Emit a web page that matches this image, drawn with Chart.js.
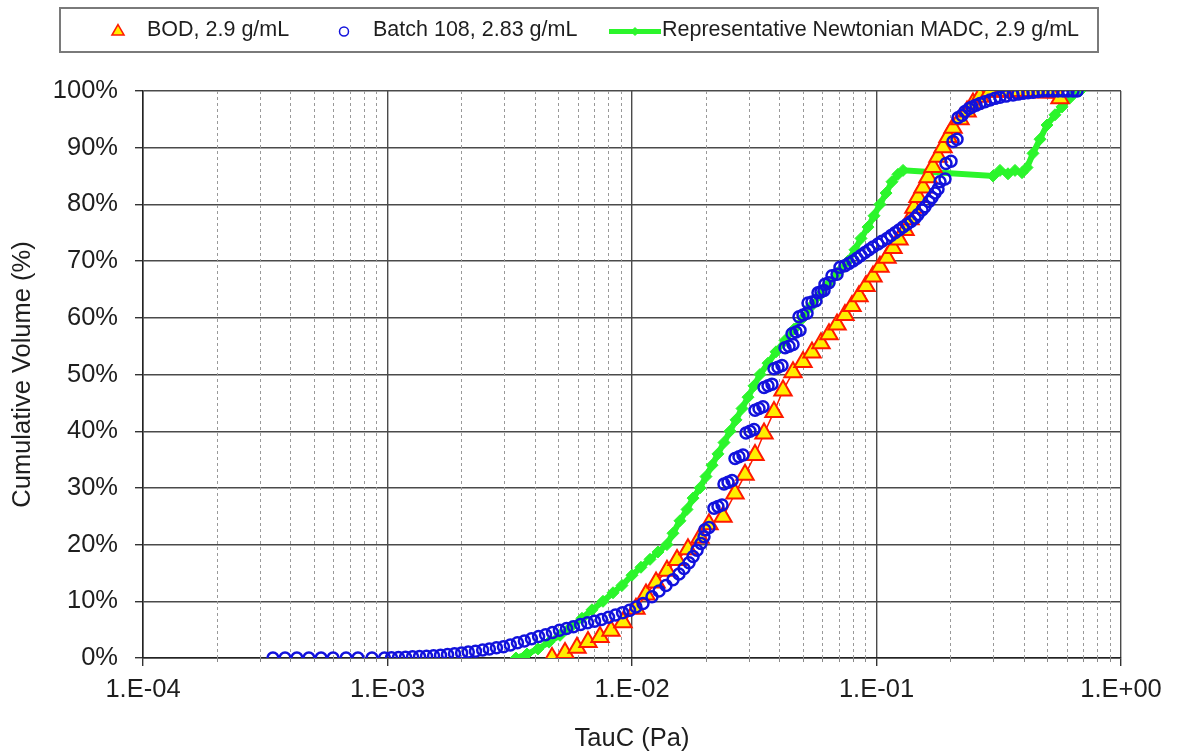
<!DOCTYPE html>
<html>
<head>
<meta charset="utf-8">
<script src="https://cdn.jsdelivr.net/npm/chart.js@4.4.0/dist/chart.umd.min.js"></script>
<style>
  html, body { margin: 0; padding: 0; background: #ffffff; }
  canvas { display: block; }
</style>
</head>
<body>
<canvas id="chart" width="1177" height="752"></canvas>
<script>
// Series names
const seriesNames = ['BOD, 2.9 g/mL', 'Batch 108, 2.83 g/mL', 'Representative Newtonian MADC, 2.9 g/mL'];

// BOD, 2.9 g/mL : critical shear stress (Pa) vs cumulative volume (%)
const bodTau = [0.004708, 0.005321, 0.005957, 0.006607, 0.007397, 0.008207, 0.009188, 0.01038, 0.01141, 0.01254,
  0.0139, 0.01528, 0.01694, 0.01897, 0.02065, 0.02356, 0.02638, 0.02899, 0.03185, 0.03467,
  0.03808, 0.04146, 0.04555, 0.05005, 0.05447, 0.05929, 0.06393, 0.06896, 0.07432, 0.07941,
  0.08481, 0.09059, 0.09676, 0.1033, 0.1104, 0.1168, 0.1236, 0.1308, 0.1371, 0.1423,
  0.1478, 0.155, 0.1624, 0.1702, 0.1785, 0.1871, 0.1961, 0.2056, 0.2195, 0.2346,
  0.2481, 0.265, 0.563, 0.2912, 0.3291, 0.3756, 0.4245, 0.4664, 0.5124];
const bodVolume = [0, 0.9, 1.8, 2.8, 3.7, 4.8, 6.3, 8.7, 11.2, 13.3,
  15.4, 17.3, 19.2, 21.2, 23.6, 24.9, 29.0, 32.3, 35.8, 39.6,
  43.4, 47.2, 50.4, 52.2, 53.9, 55.5, 57.1, 58.8, 60.5, 62.1,
  63.8, 65.6, 67.3, 69.0, 70.6, 72.3, 73.8, 75.5, 77.4, 79.4,
  81.3, 83.0, 84.8, 86.6, 88.4, 90.1, 91.9, 93.5, 95.0, 96.4,
  97.8, 99.0, 98.7, 99.9, 100, 100, 100, 100, 100];

// Batch 108, 2.83 g/mL
const batchTau = [0.00034, 0.000381, 0.000426, 0.000477, 0.000535, 0.000599, 0.000677, 0.000757, 0.000864, 0.000972,
  0.001038, 0.001109, 0.001185, 0.001266, 0.001352, 0.001444, 0.001543, 0.001648, 0.00176, 0.00188,
  0.00201, 0.00214, 0.00229, 0.00245, 0.00261, 0.00279, 0.00298, 0.00318, 0.0034, 0.00363,
  0.00388, 0.00415, 0.00443, 0.00473, 0.00505, 0.0054, 0.00576, 0.00616, 0.00658, 0.00703,
  0.0075, 0.00802, 0.00856, 0.00915, 0.00977, 0.01038, 0.01109, 0.01207, 0.0129, 0.01377,
  0.01471, 0.01557, 0.01632, 0.01711, 0.01777, 0.01845, 0.01915, 0.0197, 0.01988, 0.02065,
  0.02164, 0.02247, 0.02335, 0.02378, 0.0247, 0.02566, 0.02638, 0.02739, 0.02844, 0.02926,
  0.03038, 0.03155, 0.03185, 0.03307, 0.03434, 0.03467, 0.036, 0.03737, 0.03808, 0.03955,
  0.04107, 0.04226, 0.04387, 0.04555, 0.04512, 0.04686, 0.04866, 0.0482, 0.05005, 0.05198,
  0.05246, 0.05447, 0.05656, 0.05764, 0.05929, 0.061, 0.06157, 0.06393, 0.06577, 0.06896,
  0.07091, 0.07432, 0.07718, 0.0802, 0.08323, 0.0864, 0.08974, 0.0932, 0.09676, 0.1014,
  0.1053, 0.1104, 0.1147, 0.1191, 0.1236, 0.1284, 0.1333, 0.1384, 0.1437, 0.1478,
  0.1536, 0.1579, 0.164, 0.1687, 0.1735, 0.1785, 0.1819, 0.1906, 0.1924, 0.2017,
  0.2056, 0.2135, 0.2154, 0.2237, 0.2301, 0.2389, 0.2458, 0.2553, 0.265, 0.2779,
  0.2912, 0.3052, 0.3199, 0.3386, 0.3617, 0.3791, 0.3974, 0.4165, 0.4367, 0.4577,
  0.4797, 0.5028, 0.5271, 0.5525, 0.579, 0.6071, 0.6363, 0.6608];
const batchVolume = [0, 0, 0, 0, 0, 0, 0, 0, 0, 0,
  0.05, 0.1, 0.15, 0.2, 0.25, 0.3, 0.4, 0.5, 0.6, 0.75,
  0.9, 1.05, 1.2, 1.4, 1.6, 1.8, 2.0, 2.3, 2.7, 3.0,
  3.4, 3.8, 4.1, 4.5, 4.9, 5.2, 5.5, 5.9, 6.2, 6.5,
  6.8, 7.2, 7.6, 8.0, 8.4, 9.0, 9.6, 10.8, 11.8, 12.8,
  13.8, 14.8, 15.8, 16.8, 17.9, 19.0, 20.2, 21.4, 22.6, 23.0,
  26.4, 26.7, 27.0, 30.7, 31.0, 31.3, 35.2, 35.5, 35.8, 39.7,
  40.0, 40.3, 43.7, 44.0, 44.3, 47.7, 48.0, 48.3, 51.0, 51.3,
  51.6, 54.7, 55.0, 55.3, 57.2, 57.5, 57.8, 60.2, 60.5, 60.8,
  62.6, 62.8, 63.0, 64.4, 64.6, 64.8, 65.9, 66.2, 67.4, 67.7,
  68.9, 69.2, 69.6, 70.0, 70.5, 71.0, 71.5, 72.0, 72.5, 73.0,
  73.5, 74.0, 74.5, 75.0, 75.5, 76.0, 76.5, 77.0, 77.6, 78.2,
  79.0, 79.6, 80.5, 81.2, 82.0, 82.7, 84.0, 84.5, 87.2, 87.6,
  91.1, 91.5, 95.3, 95.7, 96.4, 96.9, 97.2, 97.5, 97.8, 98.1,
  98.4, 98.7, 98.9, 99.1, 99.3, 99.45, 99.6, 99.7, 99.8, 99.9,
  100, 100, 100, 100, 100, 100, 100, 100];

// Representative Newtonian MADC, 2.9 g/mL
const madcTau = [0.003353, 0.00372, 0.004126, 0.004576, 0.005076, 0.005628, 0.006243, 0.006861, 0.00761, 0.008362,
  0.009101, 0.01, 0.01088, 0.01185, 0.01277, 0.0139, 0.01471, 0.01571, 0.01679, 0.01777,
  0.01897, 0.02007, 0.02125, 0.02247, 0.02378, 0.02516, 0.02663, 0.02818, 0.02982, 0.03155,
  0.03338, 0.036, 0.03882, 0.04226, 0.04599, 0.05005, 0.05396, 0.05874, 0.06393, 0.06961,
  0.07645, 0.08166, 0.08643, 0.09231, 0.09768, 0.1033, 0.1094, 0.1157, 0.1224, 0.1284,
  0.2996, 0.3199, 0.345, 0.3686, 0.3937, 0.4127, 0.4367, 0.4664, 0.4982, 0.537,
  0.5738, 0.6186, 0.6796];
const madcVolume = [0, 0.7, 1.6, 2.8, 4.0, 5.5, 7.0, 8.5, 10.0, 11.5,
  12.8, 14.6, 16.0, 17.4, 18.7, 20.0, 22.0, 24.2, 26.2, 28.2,
  30.0, 32.0, 34.0, 36.0, 38.0, 40.0, 42.0, 44.0, 46.0, 48.0,
  50.0, 52.0, 54.0, 56.0, 58.0, 60.0, 62.0, 64.0, 66.0, 68.0,
  70.0, 72.0, 74.0, 76.0, 78.0, 80.0, 82.0, 84.0, 85.3, 86.0,
  85.0, 86.0, 85.4, 86.0, 85.6, 86.5, 89.0, 91.5, 94.0, 95.8,
  97.2, 98.8, 100];

// Axis ticks
const xDecades = [1e-4, 1e-3, 1e-2, 1e-1, 1];
const xTickLabels = ['1.E-04', '1.E-03', '1.E-02', '1.E-01', '1.E+00'];
const yTicks = [0, 10, 20, 30, 40, 50, 60, 70, 80, 90, 100];

const FONT = "'Liberation Sans', Arial, Helvetica, sans-serif";
const TEXT = '#1e1e1e';
const YELLOW = '#ffee00';
const RED = '#ff1a00';
const BLUE = '#1212dc';
const GREEN = '#2bf52b';

const toPoints = (xs, ys) => xs.map((x, i) => ({ x: x, y: ys[i] }));

// dashed minor gridlines (2..9 within each decade) plus small minor tick marks
const minorGrid = {
  id: 'minorGrid',
  beforeDatasetsDraw(chart) {
    const xs = chart.scales.x;
    const area = chart.chartArea;
    const ctx = chart.ctx;
    ctx.save();
    for (let d = 0; d < xDecades.length - 1; d++) {
      for (let k = 2; k <= 9; k++) {
        const px = Math.round(xs.getPixelForValue(k * xDecades[d])) + 0.5;
        ctx.strokeStyle = '#999999';
        ctx.lineWidth = 1;
        ctx.setLineDash([3, 3]);
        ctx.beginPath();
        ctx.moveTo(px, area.top);
        ctx.lineTo(px, area.bottom);
        ctx.stroke();
        ctx.setLineDash([]);
        ctx.strokeStyle = '#888';
        ctx.beginPath();
        ctx.moveTo(px, area.bottom);
        ctx.lineTo(px, area.bottom + 4);
        ctx.stroke();
      }
    }
    ctx.restore();
  }
};

// boxed legend across the top
const boxLegend = {
  id: 'boxLegend',
  afterDraw(chart) {
    const ctx = chart.ctx;
    const h = Chart.helpers;
    ctx.save();
    ctx.strokeStyle = '#7a7a7a';
    ctx.lineWidth = 2;
    ctx.strokeRect(60, 8, 1038, 44);

    const cy = 30.5;
    ctx.font = '21.5px ' + FONT;
    ctx.textBaseline = 'middle';
    ctx.textAlign = 'left';

    // BOD
    ctx.fillStyle = YELLOW; ctx.strokeStyle = RED; ctx.lineWidth = 1.5;
    h.drawPoint(ctx, { pointStyle: 'triangle', radius: 7, rotation: 0, borderWidth: 1.5 }, 118, cy + 1);
    ctx.fillStyle = TEXT;
    ctx.fillText(seriesNames[0], 147, cy);

    // Batch 108
    ctx.fillStyle = 'rgba(0,0,0,0)'; ctx.strokeStyle = BLUE; ctx.lineWidth = 1.5;
    h.drawPoint(ctx, { pointStyle: 'circle', radius: 4.5, rotation: 0, borderWidth: 1.5 }, 344, cy + 1);
    ctx.fillStyle = TEXT;
    ctx.fillText(seriesNames[1], 373, cy);

    // MADC
    ctx.strokeStyle = GREEN; ctx.lineWidth = 5;
    ctx.beginPath(); ctx.moveTo(609, cy + 1); ctx.lineTo(661, cy + 1); ctx.stroke();
    ctx.fillStyle = GREEN; ctx.lineWidth = 1;
    h.drawPoint(ctx, { pointStyle: 'rectRot', radius: 4, rotation: 0, borderWidth: 1 }, 635, cy + 1);
    ctx.fillStyle = TEXT;
    ctx.fillText(seriesNames[2], 662, cy);
    ctx.restore();
  }
};

new Chart(document.getElementById('chart'), {
  type: 'scatter',
  data: {
    datasets: [
      {
        label: seriesNames[0],
        data: toPoints(bodTau, bodVolume),
        showLine: true,
        borderColor: RED,
        borderWidth: 1.5,
        pointStyle: 'triangle',
        pointRadius: 10,
        pointBackgroundColor: YELLOW,
        pointBorderColor: RED,
        pointBorderWidth: 2,
        order: 1
      },
      {
        label: seriesNames[1],
        data: toPoints(batchTau, batchVolume),
        showLine: false,
        pointStyle: 'circle',
        pointRadius: 5.5,
        pointBackgroundColor: 'rgba(0,0,0,0)',
        pointBorderColor: BLUE,
        pointBorderWidth: 2.5,
        order: 0
      },
      {
        label: seriesNames[2],
        data: toPoints(madcTau, madcVolume),
        showLine: true,
        borderColor: GREEN,
        borderWidth: 6,
        pointStyle: 'rectRot',
        pointRadius: 6,
        pointBackgroundColor: GREEN,
        pointBorderColor: GREEN,
        pointBorderWidth: 1,
        order: 2
      }
    ]
  },
  options: {
    responsive: false,
    animation: false,
    devicePixelRatio: 1,
    layout: { padding: { top: 91, right: 56, bottom: 0, left: 0 } },
    plugins: {
      legend: { display: false },
      tooltip: { enabled: false }
    },
    scales: {
      x: {
        type: 'logarithmic',
        position: 'bottom',
        min: 1e-4,
        max: 1,
        afterBuildTicks: (s) => { s.ticks = xDecades.map(v => ({ value: v, major: true })); },
        afterFit: (s) => { s.height = 94; },
        ticks: {
          autoSkip: false,
          maxRotation: 0,
          padding: 9,
          color: TEXT,
          font: { family: FONT, size: 25.5 },
          callback: (v, i) => xTickLabels[i]
        },
        grid: { color: '#4a4a4a', lineWidth: 1.4, tickLength: 8, tickColor: '#333' },
        border: { color: '#222', width: 1.5 },
        title: {
          display: true,
          text: 'TauC (Pa)',
          color: TEXT,
          padding: 0,
          font: { family: FONT, size: 25.5, lineHeight: 1 }
        }
      },
      y: {
        type: 'linear',
        min: 0,
        max: 100,
        afterBuildTicks: (s) => { s.ticks = yTicks.map(v => ({ value: v })); },
        afterFit: (s) => { s.width = 143; },
        ticks: {
          padding: 17,
          color: TEXT,
          font: { family: FONT, size: 25.5 },
          callback: (v) => v + '%'
        },
        grid: { color: '#4a4a4a', lineWidth: 1.4, tickLength: 8, tickColor: '#333' },
        border: { color: '#222', width: 1.5 },
        title: {
          display: true,
          text: 'Cumulative Volume (%)',
          color: TEXT,
          padding: 8,
          font: { family: FONT, size: 25.5 }
        }
      }
    }
  },
  plugins: [minorGrid, boxLegend]
});
</script>
</body>
</html>
